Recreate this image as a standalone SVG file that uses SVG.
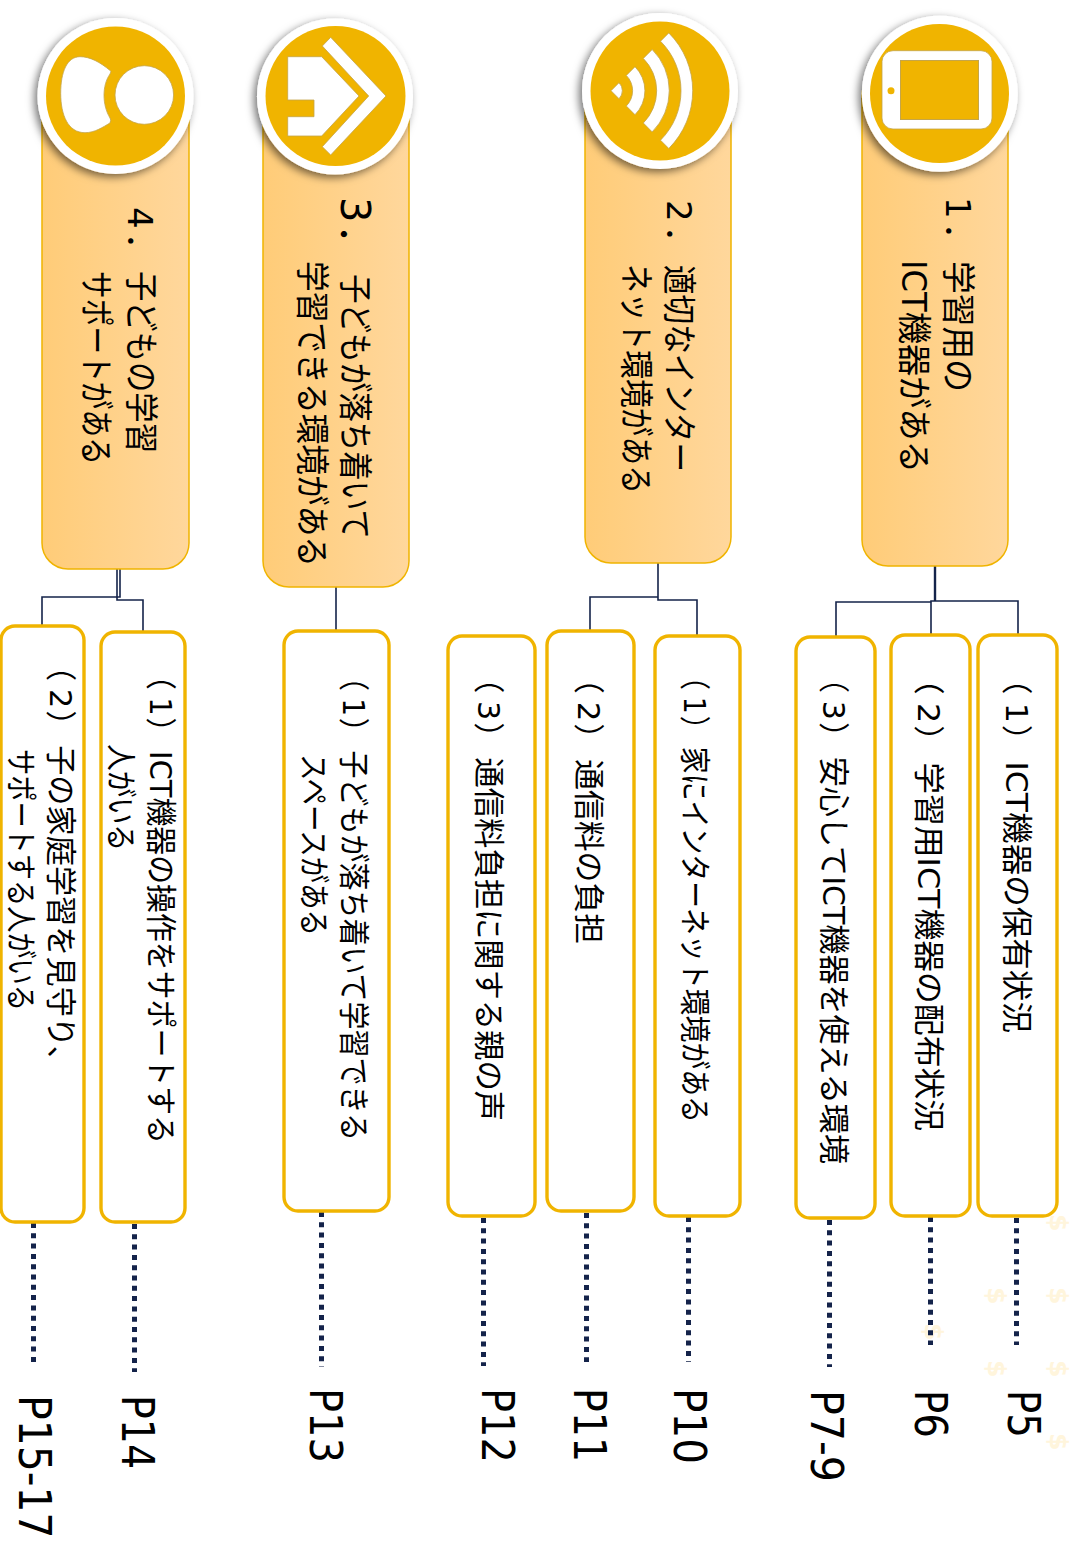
<svg xmlns="http://www.w3.org/2000/svg" width="1077" height="1544" viewBox="0 0 1077 1544">
<style>
text{font-family:"DejaVu Sans","Noto Sans CJK JP",sans-serif;fill:#000}
.h{font-size:34px}
.s{font-size:31px}
.p{font-size:44px}
.d{font-size:25px;font-weight:bold;fill:#FFF5DC}
.hd{fill:url(#g);stroke:#F0B400;stroke-width:1.5}
.box{fill:#fff;stroke:#F0B400;stroke-width:3.4}
.ring{fill:#fff;filter:url(#sh)}
.gold{fill:#F0B400}
.ic{fill:#fff;stroke:#C4A54A;stroke-width:.8}
.c{fill:none;stroke:#14234A;stroke-width:1.6}
.dot{fill:none;stroke:#14234A;stroke-width:5;stroke-dasharray:5 5.3}
</style>
<defs>
<linearGradient id="g" x1="0" y1="0" x2="1" y2="0"><stop offset="0" stop-color="#FFCC78"/><stop offset="1" stop-color="#FFD79C"/></linearGradient>
<filter id="sh" x="-20%" y="-20%" width="140%" height="140%"><feDropShadow dx="-3" dy="3" stdDeviation="4.5" flood-color="#000" flood-opacity=".55"/></filter>
</defs>
<g id="decor">
<text class="d" transform="translate(1050,1214) rotate(90)">$</text>
<text class="d" transform="translate(988,1287) rotate(90)">$</text>
<text class="d" transform="translate(1050,1287) rotate(90)">$</text>
<text class="d" transform="translate(988,1360) rotate(90)">$</text>
<text class="d" transform="translate(1050,1360) rotate(90)">$</text>
<text class="d" transform="translate(1050,1433) rotate(90)">$</text>
<text class="d" transform="translate(925,1323) rotate(90)">$</text>
</g>
<g id="connectors">
<path class="c" d="M935 566V601" style="stroke-width:2.4"/>
<path class="c" d="M836 637V602H931M931 635V601H1018V635"/>
<path class="c" d="M658 563V597H590V631M658 597V600H697V636"/>
<path class="c" d="M336 587V631"/>
<path class="c" d="M120 569V597H42V626M117 569V600H143V632"/>
<path class="dot" d="M1016.5 1218V1345"/>
<path class="dot" d="M930.5 1217V1345"/>
<path class="dot" d="M829.5 1220V1367"/>
<path class="dot" d="M688.5 1217V1362"/>
<path class="dot" d="M586.5 1213V1362"/>
<path class="dot" d="M483.5 1218V1366"/>
<path class="dot" d="M321.5 1212V1367"/>
<path class="dot" d="M134.5 1224V1372"/>
<path class="dot" d="M33.5 1223V1367"/>
</g>
<g id="head1">
<rect class="hd" x="862" y="70" width="146" height="496" rx="26"/>
<circle class="ring" cx="939.8" cy="93.7" r="78"/><circle class="gold" cx="939.5" cy="93.5" r="69.5"/>
<rect class="ic" x="882" y="50.7" width="110" height="78.3" rx="11"/>
<rect class="gold" stroke="#C4A54A" x="900.5" y="60.5" width="78" height="59"/>
<circle class="gold" cx="891" cy="90.7" r="3.5"/>
<text class="h" transform="translate(946,197) rotate(90)">1<tspan dx="4">．</tspan></text>
<text class="h" transform="translate(946,261) rotate(90)" textLength="131" lengthAdjust="spacingAndGlyphs">学習用の</text>
<text class="h" transform="translate(902,260) rotate(90)" textLength="213" lengthAdjust="spacingAndGlyphs">ICT機器がある</text>
</g>
<g id="head2">
<rect class="hd" x="585" y="70" width="146" height="493" rx="26"/>
<circle class="ring" cx="660" cy="91" r="78"/><circle class="gold" cx="660" cy="91" r="69.5"/>
<path class="ic" d="M611 90.7L619 82.7A11.3 11.3 0 0 1 619 98.7Z"/>
<path class="ic" d="M626.3 75.4L635 66.7A34 34 0 0 1 635 114.7L626.3 106A21.7 21.7 0 0 0 626.3 75.4Z"/>
<path class="ic" d="M643.3 58.4L652.2 49.5A58.3 58.3 0 0 1 652.2 131.9L643.3 123A45.7 45.7 0 0 0 643.3 58.4Z"/>
<path class="ic" d="M660.5 41.2L668.8 32.9A81.8 81.8 0 0 1 668.8 148.5L660.5 140.2A70 70 0 0 0 660.5 41.2Z"/>
<text class="h" transform="translate(667,200) rotate(90)">2<tspan dx="4">．</tspan></text>
<text class="h" transform="translate(667,265) rotate(90)" textLength="207" lengthAdjust="spacingAndGlyphs">適切なインター</text>
<text class="h" transform="translate(624,264) rotate(90)" textLength="230" lengthAdjust="spacingAndGlyphs">ネット環境がある</text>
</g>
<g id="head3">
<rect class="hd" x="263" y="70" width="146" height="517" rx="26"/>
<circle class="ring" cx="335" cy="96.5" r="78"/><circle class="gold" cx="335.5" cy="96" r="70"/>
<polygon class="ic" points="287.7,56.7 321.7,56.7 359,96 321.7,136 287.7,136 287.7,116.7 314,116.7 314,100 287.7,100"/>
<polygon class="ic" points="330.7,37.3 386,96 330.7,155 322.3,146.7 368.7,96 322.3,46"/>
<text class="h" transform="translate(341,197) rotate(90)" style="font-size:40px">3<tspan dx="2">．</tspan></text>
<text class="h" transform="translate(343,274) rotate(90)" textLength="265" lengthAdjust="spacingAndGlyphs">子どもが落ち着いて</text>
<text class="h" transform="translate(300,261) rotate(90)" textLength="306" lengthAdjust="spacingAndGlyphs">学習できる環境がある</text>
</g>
<g id="head4">
<rect class="hd" x="42" y="70" width="147" height="499" rx="26"/>
<circle class="ring" cx="115.5" cy="96" r="78"/><circle class="gold" cx="115.5" cy="96" r="69.5"/>
<circle class="ic" cx="144.3" cy="95" r="29.3"/>
<path class="ic" d="M110.7 71C100 62 90 56.7 80 56.7C67 56.7 60.7 72 60.7 93.3C60.7 115 68 132.7 85 132.7C95 132.7 103 127 110 123Q111.5 120 110 118C102 105 102 85 110 74Q111.5 71 110.7 71Z"/>
<text class="h" transform="translate(128,207) rotate(90)">4<tspan dx="4">．</tspan></text>
<text class="h" transform="translate(129,271) rotate(90)" textLength="182" lengthAdjust="spacingAndGlyphs">子どもの学習</text>
<text class="h" transform="translate(84,271) rotate(90)" textLength="194" lengthAdjust="spacingAndGlyphs">サポートがある</text>
</g>
<g id="n1-1"><rect class="box" x="978" y="635" width="79" height="581" rx="14"/>
<text class="s" transform="translate(1006,663) rotate(90)" textLength="370" lengthAdjust="spacingAndGlyphs">（<tspan dx="8">1</tspan><tspan dx="2">）</tspan><tspan dx="5">ICT機器の保有状況</tspan></text>
<text class="p" transform="translate(1008,1390) rotate(90)" textLength="48" lengthAdjust="spacingAndGlyphs">P5</text></g>
<g id="n1-2"><rect class="box" x="891" y="635" width="79" height="581" rx="14"/>
<text class="s" transform="translate(918,663) rotate(90)" textLength="468" lengthAdjust="spacingAndGlyphs">（<tspan dx="8">2</tspan><tspan dx="2">）</tspan><tspan dx="5">学習用ICT機器の配布状況</tspan></text>
<text class="p" transform="translate(915,1390) rotate(90)" textLength="48" lengthAdjust="spacingAndGlyphs">P6</text></g>
<g id="n1-3"><rect class="box" x="796" y="637" width="79" height="581" rx="14"/>
<text class="s" transform="translate(823,663) rotate(90)" textLength="501" lengthAdjust="spacingAndGlyphs">（<tspan dx="8">3</tspan><tspan dx="2">）</tspan><tspan dx="5">安心してICT機器を使える環境</tspan></text>
<text class="p" transform="translate(811,1390) rotate(90)" textLength="92" lengthAdjust="spacingAndGlyphs">P7-9</text></g>
<g id="n2-1"><rect class="box" x="655" y="636" width="85" height="580" rx="14"/>
<text class="s" transform="translate(684,663) rotate(90)" textLength="460" lengthAdjust="spacingAndGlyphs">（<tspan dx="8">1</tspan><tspan dx="2">）</tspan><tspan dx="5">家にインターネット環境がある</tspan></text>
<text class="p" transform="translate(674,1388) rotate(90)" textLength="76" lengthAdjust="spacingAndGlyphs">P10</text></g>
<g id="n2-2"><rect class="box" x="547" y="631" width="87" height="580" rx="14"/>
<text class="s" transform="translate(578,663) rotate(90)" textLength="281" lengthAdjust="spacingAndGlyphs">（<tspan dx="8">2</tspan><tspan dx="2">）</tspan><tspan dx="5">通信料の負担</tspan></text>
<text class="p" transform="translate(574,1388) rotate(90)" textLength="74" lengthAdjust="spacingAndGlyphs">P11</text></g>
<g id="n2-3"><rect class="box" x="448" y="636" width="87" height="580" rx="14"/>
<text class="s" transform="translate(478,663) rotate(90)" textLength="458" lengthAdjust="spacingAndGlyphs">（<tspan dx="8">3</tspan><tspan dx="2">）</tspan><tspan dx="5">通信料負担に関する親の声</tspan></text>
<text class="p" transform="translate(482,1388) rotate(90)" textLength="75" lengthAdjust="spacingAndGlyphs">P12</text></g>
<g id="n3-1"><rect class="box" x="284" y="631" width="105" height="580" rx="14"/>
<text class="s" transform="translate(343,663) rotate(90)" textLength="478" lengthAdjust="spacingAndGlyphs">（<tspan dx="8">1</tspan><tspan dx="2">）</tspan><tspan dx="5">子どもが落ち着いて学習できる</tspan></text>
<text class="s" transform="translate(303,754) rotate(90)" textLength="182" lengthAdjust="spacingAndGlyphs">スペースがある</text>
<text class="p" transform="translate(310,1388) rotate(90)" textLength="75" lengthAdjust="spacingAndGlyphs">P13</text></g>
<g id="n4-1"><rect class="box" x="101" y="632" width="84" height="590" rx="14"/>
<text class="s" transform="translate(150,661) rotate(90)" textLength="483" lengthAdjust="spacingAndGlyphs">（<tspan dx="8">1</tspan><tspan dx="2">）</tspan><tspan dx="5">ICT機器の操作をサポートする</tspan></text>
<text class="s" transform="translate(110,744) rotate(90)" textLength="107" lengthAdjust="spacingAndGlyphs">人がいる</text>
<text class="p" transform="translate(122,1395) rotate(90)" textLength="74" lengthAdjust="spacingAndGlyphs">P14</text></g>
<g id="n4-2"><rect class="box" x="1" y="626" width="83" height="596" rx="14"/>
<text class="s" transform="translate(50,651) rotate(90)" textLength="425" lengthAdjust="spacingAndGlyphs">（<tspan dx="8">2</tspan><tspan dx="2">）</tspan><tspan dx="5">子の家庭学習を見守り、</tspan></text>
<text class="s" transform="translate(10,749) rotate(90)" textLength="262" lengthAdjust="spacingAndGlyphs">サポートする人がいる</text>
<text class="p" transform="translate(19,1395) rotate(90) scale(.93,1)">P15-17</text></g>
</svg>
